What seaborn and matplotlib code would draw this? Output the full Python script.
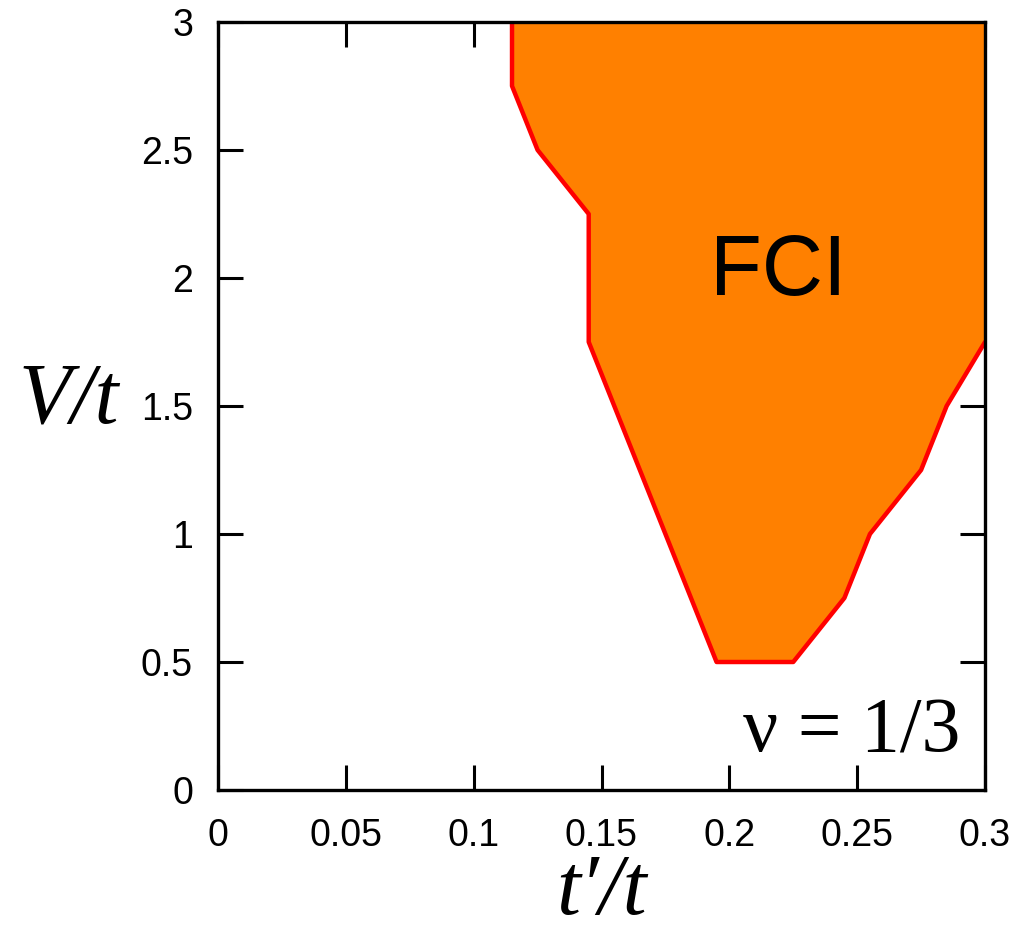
import matplotlib
matplotlib.use("Agg")
import matplotlib.pyplot as plt
import seaborn as sns
import pandas as pd

# FCI region boundary (t'/t, V/t), traced along the edge
tp_boundary = [0.115, 0.115, 0.125, 0.145, 0.145, 0.195, 0.225, 0.245, 0.255, 0.275, 0.285, 0.300]
v_boundary = [3.00, 2.75, 2.50, 2.25, 1.75, 0.50, 0.50, 0.75, 1.00, 1.25, 1.50, 1.75]

x_ticks = [0, 0.05, 0.1, 0.15, 0.2, 0.25, 0.3]
x_ticklabels = ["0", "0.05", "0.1", "0.15", "0.2", "0.25", "0.3"]
y_ticks = [0, 0.5, 1, 1.5, 2, 2.5, 3]
y_ticklabels = ["0", "0.5", "1", "1.5", "2", "2.5", "3"]

sns.set_theme(style="ticks")
plt.rcParams['font.family'] = ['Liberation Sans', 'DejaVu Sans']
plt.rcParams['text.color'] = 'black'
plt.rcParams['axes.labelcolor'] = 'black'
plt.rcParams['xtick.color'] = 'black'
plt.rcParams['ytick.color'] = 'black'

fig = plt.figure(figsize=(10.11, 9.40), dpi=100)
ax = fig.add_axes([218/1011, 150/940, (985-218)/1011, (790-22)/940])

# filled polygon: boundary plus the top-right corner
poly_x = tp_boundary + [0.3]
poly_y = v_boundary + [3.0]
ax.fill(poly_x, poly_y, color="#FF8000", zorder=1, linewidth=0)

df = pd.DataFrame({"tp": tp_boundary, "V": v_boundary})
sns.lineplot(data=df, x="tp", y="V", sort=False, estimator=None, color="#FF0000",
             linewidth=3.2, ax=ax, zorder=2)

ax.set_xlim(0, 0.3)
ax.set_ylim(0, 3)
ax.set_xticks(x_ticks)
ax.set_xticklabels(x_ticklabels)
ax.set_yticks(y_ticks)
ax.set_yticklabels(y_ticklabels)
ax.tick_params(direction="in", length=18, width=2.2, labelsize=27, colors="black",
               top=True, right=True)
ax.tick_params(axis="y", pad=18)
ax.tick_params(axis="x", pad=20)
for s in ax.spines.values():
    s.set_linewidth(2.4)
    s.set_color("black")
    s.set_zorder(5)

serif = ["Liberation Serif", "DejaVu Serif"]
ax.set_xlabel("t′/t", fontfamily=serif, style="italic", fontsize=62, color="black")
ax.set_ylabel("V/t", fontfamily=serif, style="italic", fontsize=62, rotation=0,
              color="black")
ax.xaxis.label.set_va("center")
ax.yaxis.label.set_va("center")
ax.yaxis.label.set_ha("center")
ax.yaxis.set_label_coords(-0.195, 0.505)
ax.xaxis.set_label_coords(0.5, -0.135)

ax.text(0.219, 2.02, "FCI", fontsize=61, ha="center", va="center", color="black")
ax.text(0.2905, 0.15, "ν = 1/3", fontfamily=serif,
        fontsize=56, ha="right", va="baseline", color="black")

fig.savefig("out.png", dpi=100)
